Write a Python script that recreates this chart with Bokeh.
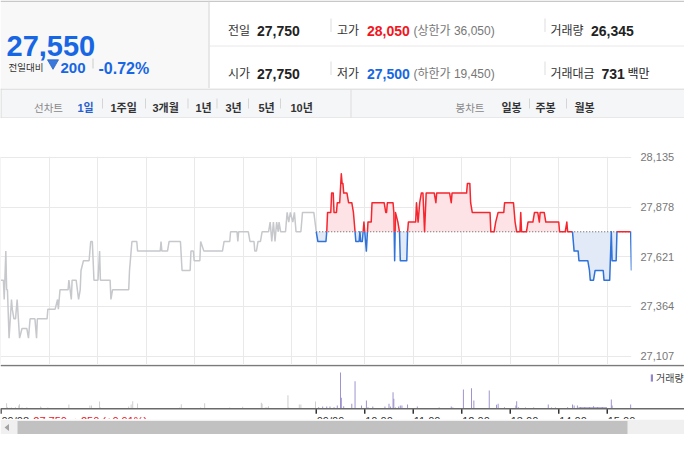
import numpy as np
from bokeh.plotting import figure
from bokeh.layouts import column
from bokeh.models import Range1d, FixedTicker, NumeralTickFormatter, Span, Legend, LegendItem
from bokeh.core.properties import value
from bokeh.embed import file_html
from bokeh.resources import INLINE

# ---------------- data ----------------
CUR_PRICE = "27,550"
CHANGE_ABS = "200"
CHANGE_PCT = "-0.72%"
ROW1 = [("전일", "27,750"), ("고가", "28,050", "(상한가 36,050)"), ("거래량", "26,345")]
ROW2 = [("시가", "27,750"), ("저가", "27,500", "(하한가 19,450)"), ("거래대금", "731", "백만")]
LINE_TABS = ["1일", "1주일", "3개월", "1년", "3년", "5년", "10년"]
CANDLE_TABS = ["일봉", "주봉", "월봉"]

PREV_CLOSE = 27750
Y_TICKS = [27107, 27364, 27621, 27878, 28135]
HOURS = ["10:00", "11:00", "12:00", "13:00", "14:00", "15:00"]
DAY_LABELS = ["09/08", "09/09"]
PREV_DAY_NOTE = "27,750 ▲250 (+0.91%)"

PREV_TIMES = ["09:00", "09:03", "09:04", "09:06", "09:07", "09:08", "09:10", "09:13", "09:14", "09:16",
              "09:18", "09:20", "09:23", "09:26", "09:32", "09:34", "09:36", "09:42", "09:44", "09:45",
              "09:57", "09:58", "10:07", "10:10", "10:11", "10:13", "10:23", "10:24", "10:27", "10:28",
              "10:33", "10:36", "10:38", "10:39", "10:42", "10:49", "10:51", "10:53", "10:55", "11:00",
              "11:02", "11:03", "11:15", "11:16", "11:18", "11:38", "11:39", "11:42", "11:48", "11:49",
              "12:17", "12:18", "12:19", "12:26", "12:28", "12:42", "12:44", "12:54", "12:55", "12:58",
              "12:59", "13:06", "13:07", "13:11", "13:34", "13:36", "13:43", "13:44", "13:52", "13:53",
              "13:54", "14:06", "14:08", "14:13", "14:14", "14:16", "14:18", "14:21", "14:23", "14:31",
              "14:33", "14:35", "14:37", "14:39", "14:41", "14:43", "14:44", "14:46", "14:52", "14:54",
              "14:56", "14:58", "15:01", "15:03", "15:05", "15:11", "15:13", "15:27", "15:30"]
PREV_PRICES = [27500, 27500, 27400, 27650, 27450, 27450, 27200, 27400, 27350, 27300,
               27300, 27400, 27200, 27250, 27250, 27200, 27300, 27300, 27200, 27300,
               27300, 27350, 27350, 27400, 27350, 27450, 27450, 27500, 27400, 27500,
               27500, 27400, 27450, 27550, 27600, 27600, 27700, 27700, 27500, 27500,
               27650, 27500, 27500, 27400, 27450, 27450, 27550, 27700, 27700, 27650,
               27650, 27700, 27650, 27650, 27700, 27700, 27550, 27550, 27650, 27650,
               27600, 27600, 27700, 27650, 27650, 27700, 27700, 27750, 27750, 27700,
               27750, 27750, 27700, 27700, 27650, 27650, 27700, 27700, 27750, 27750,
               27800, 27700, 27800, 27700, 27800, 27750, 27800, 27750, 27750, 27850,
               27800, 27850, 27800, 27850, 27750, 27750, 27850, 27850, 27750]

TODAY_TIMES = ["09:00", "09:02", "09:12", "09:13", "09:14", "09:18", "09:19", "09:21", "09:22", "09:25",
               "09:26", "09:29", "09:31", "09:32", "09:33", "09:34", "09:38", "09:40", "09:44", "09:46",
               "09:48", "09:49", "09:53", "09:54", "09:55", "09:57", "09:58", "09:59", "10:00", "10:01",
               "10:02", "10:04", "10:08", "10:09", "10:24", "10:26", "10:27", "10:28", "10:35", "10:36",
               "10:37", "10:38", "10:41", "10:43", "10:44", "10:52", "10:53", "10:54", "11:03", "11:04",
               "11:06", "11:08", "11:10", "11:12", "11:14", "11:16", "11:26", "11:28", "11:29", "11:45",
               "11:47", "11:48", "12:06", "12:07", "12:10", "12:11", "12:13", "12:35", "12:36", "12:40",
               "12:42", "12:45", "12:52", "12:53", "13:04", "13:06", "13:08", "13:12", "13:13", "13:14",
               "13:20", "13:22", "13:28", "13:30", "13:34", "13:36", "13:37", "13:42", "13:44", "14:00",
               "14:01", "14:08", "14:10", "14:11", "14:17", "14:19", "14:24", "14:25", "14:36", "14:38",
               "14:39", "14:43", "14:45", "14:55", "14:56", "15:03", "15:05", "15:06", "15:11", "15:12",
               "15:29", "15:30"]
TODAY_PRICES = [27750, 27700, 27700, 27750, 27850, 27850, 27950, 27950, 27850, 27850,
                27900, 27900, 28050, 28000, 28000, 27950, 27950, 27900, 27900, 27850,
                27750, 27700, 27700, 27750, 27700, 27700, 27750, 27800, 27750, 27700,
                27650, 27800, 27800, 27900, 27900, 27850, 27850, 27900, 27900, 27850,
                27600, 27850, 27800, 27750, 27600, 27600, 27750, 27800, 27800, 27900,
                27800, 27900, 27950, 27950, 27750, 27950, 27950, 27900, 27950, 27950,
                27900, 27950, 27950, 28000, 28000, 27900, 27850, 27850, 27750, 27750,
                27800, 27850, 27850, 27900, 27900, 27800, 27750, 27750, 27850, 27750,
                27750, 27800, 27800, 27850, 27850, 27800, 27850, 27850, 27800, 27800,
                27750, 27750, 27800, 27750, 27750, 27650, 27650, 27600, 27600, 27550,
                27500, 27500, 27550, 27550, 27500, 27500, 27750, 27600, 27600, 27750,
                27750, 27550]

PREV_VOL_TIMES = ["09:07", "09:08", "09:11", "09:13", "09:18", "09:22", "09:23", "09:26", "09:32", "09:49",
                  "09:50", "09:58", "10:24", "10:50", "10:52", "11:02", "11:03", "11:38", "11:41", "11:43",
                  "11:49", "12:41", "12:43", "13:07", "13:12", "13:43", "13:59", "14:22", "14:23", "14:27",
                  "14:29", "14:31", "14:55", "14:56", "15:09", "15:11", "15:29"]
PREV_VOLS = [340, 100, 60, 80, 100, 200, 280, 80, 100, 140,
             80, 80, 260, 200, 200, 440, 80, 140, 260, 460,
             320, 80, 280, 80, 340, 80, 120, 360, 300, 80,
             100, 160, 820, 80, 260, 260, 440]

TODAY_VOL_TIMES = ["09:03", "09:08", "09:13", "09:17", "09:22", "09:26", "09:30", "09:31", "09:34", "09:44",
                   "09:48", "09:56", "10:02", "10:04", "10:10", "10:25", "10:30", "10:32", "10:35", "10:36",
                   "10:38", "10:42", "10:44", "10:46", "10:53", "11:05", "11:32", "11:47", "11:49", "12:02",
                   "12:12", "12:15", "12:34", "12:43", "12:45", "12:53", "13:07", "13:08", "13:10", "13:19",
                   "13:29", "13:47", "13:51", "13:56", "14:11", "14:17", "14:19", "14:23",
                   "14:25", "14:26", "14:27", "14:28", "14:29", "14:30", "14:31", "14:32", "14:33", "14:34",
                   "14:35", "14:36", "14:37", "14:38", "14:39", "14:40", "14:41", "14:42", "14:43", "14:44",
                   "14:45", "14:46", "14:47", "14:48", "14:49", "14:50", "14:51", "14:52", "14:53", "14:54",
                   "14:55", "14:56", "14:57", "14:58", "14:59", "15:05", "15:06", "15:29"]
TODAY_VOLS = [100, 140, 140, 140, 100, 200, 2180, 660, 160, 300,
              1660, 200, 500, 100, 140, 140, 300, 140, 1000, 600,
              80, 140, 200, 200, 260, 140, 80, 140, 80, 1160,
              1240, 500, 1100, 240, 300, 100, 200, 460, 100, 80,
              80, 260, 80, 80, 100, 260, 200, 200,
              100, 90, 110, 100, 100, 90, 100, 110, 100, 100,
              90, 100, 100, 110, 100, 100, 90, 100, 160, 100,
              100, 90, 100, 110, 100, 100, 90, 100, 100, 110,
              100, 90, 100, 100, 100, 560, 200, 260]

# ---------------- style ----------------
FONT = "Liberation Sans, Noto Sans CJK KR"
BLUE = "#1766e3"
RED = "#f0161e"
LINE_RED = "#f5262e"
LINE_BLUE = "#2f72d9"
SESSION = 390  # minutes 09:00-15:30
W = 684


def tmin(t, day):
    h, m = t.split(":")
    return day * SESSION + (int(h) - 9) * 60 + int(m)


def prep(f, keep_ygrid=False):
    try:
        f.frame_align = False
    except Exception:
        pass
    f.xgrid.visible = False
    if not keep_ygrid:
        f.ygrid.visible = False
    return f


def blank(h, y0, y1):
    f = figure(width=W, height=h, x_range=Range1d(0, W), y_range=Range1d(y0, y1),
               output_backend="svg", toolbar_location=None,
               x_axis_location=None, y_axis_location=None, min_border=0,
               outline_line_color=None)
    return prep(f)


def txt(f, x, y, s, size, color, bold=False, align="left"):
    f.text(x=[x], y=[y], text=[s], text_font=value(FONT), text_font_size=f"{size}px",
           text_font_style="bold" if bold else "normal", text_color=color,
           text_align=align, text_baseline="alphabetic")


def vline(f, x, y0, y1, color, w=1):
    f.segment(x0=[x], y0=[y0], x1=[x], y1=[y1], line_color=color, line_width=w)


def hline(f, y, x0, x1, color, w=1):
    f.segment(x0=[x0], y0=[y], x1=[x1], y1=[y], line_color=color, line_width=w)


# ---------------- header ----------------
hdr = blank(88, 88, 0)
hdr.quad(left=[0], right=[208], top=[1.5], bottom=[88], fill_color="#f8f8f8", line_color=None)
hline(hdr, 0.75, 0, W, "#c8c8c8", 1.5)
vline(hdr, 208.5, 0, 88, "#d2d2d2")
hline(hdr, 45.5, 209, W, "#e8e8e8")

txt(hdr, 6, 45, CUR_PRICE, 29, BLUE, True)
txt(hdr, 8, 66.5, "전일대비", 9.5, "#333333")
hdr.scatter(x=[52.5], y=[62.5], marker="inverted_triangle", size=11, fill_color="#3a78dc",
            line_color="#2a62c4", line_width=0.8)
txt(hdr, 60, 67.5, CHANGE_ABS, 15, BLUE, True)
vline(hdr, 92.5, 58, 68, "#cccccc")
txt(hdr, 98, 67.5, CHANGE_PCT, 16, BLUE, True)

col_x = [227.5, 336.5, 550]
val_x = [256.5, 366.5, 590.5]
for row, base in ((ROW1, 30), (ROW2, 73)):
    for i, item in enumerate(row):
        txt(hdr, col_x[i], base, item[0], 12, "#333333")
    vline(hdr, 330.5, base - 12, base + 1.5, "#dddddd")
    vline(hdr, 544.5, base - 12, base + 1.5, "#dddddd")
txt(hdr, val_x[0], 30, ROW1[0][1], 14, "#222222", True)
txt(hdr, val_x[1], 30, ROW1[1][1], 14, RED, True)
txt(hdr, 413, 30, ROW1[1][2], 12, "#777777")
txt(hdr, val_x[2], 30, ROW1[2][1], 14, "#222222", True)
txt(hdr, val_x[0], 73, ROW2[0][1], 14, "#222222", True)
txt(hdr, val_x[1], 73, ROW2[1][1], 14, BLUE, True)
txt(hdr, 413, 73, ROW2[1][2], 12, "#777777")
txt(hdr, 601, 73, ROW2[2][1], 14, "#222222", True)
txt(hdr, 627, 73, ROW2[2][2], 12, "#222222")

# ---------------- tab bar ----------------
tab = blank(30, 118, 88)
tab.quad(left=[0], right=[W], top=[89], bottom=[117], fill_color="#f5f6f8", line_color=None)
hline(tab, 88.5, 0, W, "#c9c9c9")
hline(tab, 117.5, 0, W, "#d6d6d6")
vline(tab, 0.5, 88, 118, "#d6d6d6")
vline(tab, 350.5, 89, 117, "#dcdcdc")
txt(tab, 33.5, 107.5, "선차트", 10.5, "#888888")
for i, (s, x) in enumerate(zip(LINE_TABS, [77, 110, 152, 195, 225, 258, 290])):
    txt(tab, x, 107.5, s, 11, "#2a5fce" if i == 0 else "#333333", True)
for x in [102, 145, 187.5, 216.5, 248, 280]:
    vline(tab, x, 98, 108, "#d5d5d5")
txt(tab, 455, 107.5, "봉차트", 10.5, "#888888")
for s, x in zip(CANDLE_TABS, [501, 535, 574]):
    txt(tab, x, 107.5, s, 11, "#333333", True)
for x in [529, 566]:
    vline(tab, x, 98, 108, "#d5d5d5")

# ---------------- price chart ----------------
X_END = tmin("15:30", 1)
X_START = -0.6
PXM = 631 / (X_END - X_START)

pf = figure(width=W, height=246, x_range=Range1d(X_START, X_END), y_range=Range1d(27064, 28139),
            output_backend="svg", toolbar_location=None, x_axis_location=None, y_axis_location="right",
            min_border_left=0, min_border_right=W - 631, min_border_top=38, min_border_bottom=0,
            outline_line_color=None)
prep(pf, keep_ygrid=True)
ya = pf.yaxis[0]
ya.ticker = FixedTicker(ticks=Y_TICKS)
ya.formatter = NumeralTickFormatter(format="0,0")
ya.axis_line_color = None
ya.major_tick_line_color = None
ya.minor_tick_line_color = None
ya.major_tick_out = 0
ya.major_tick_in = 0
ya.major_label_standoff = 9
ya.major_label_text_font = "Liberation Sans"
ya.major_label_text_font_size = "11px"
ya.major_label_text_color = "#777777"
pf.ygrid.ticker = FixedTicker(ticks=Y_TICKS)
pf.ygrid.grid_line_color = "#e9e9e9"
grid_x = ([tmin("09:00", 0)] + [tmin(h, 0) for h in HOURS] +
          [tmin("09:00", 1)] + [tmin(h, 1) for h in HOURS])
pf.xgrid.visible = True
pf.xgrid.ticker = FixedTicker(ticks=grid_x)
pf.xgrid.grid_line_color = "#e9e9e9"

px_prev = [tmin(t, 0) for t in PREV_TIMES]
pf.line(px_prev, PREV_PRICES, line_color="#c6c8cc", line_width=1.5)

tx = [tmin(t, 1) for t in TODAY_TIMES]
X, P = [tx[0]], [TODAY_PRICES[0]]
for i in range(len(tx) - 1):
    x0, p0, x1, p1 = tx[i], TODAY_PRICES[i], tx[i + 1], TODAY_PRICES[i + 1]
    if (p0 - PREV_CLOSE) * (p1 - PREV_CLOSE) < 0:
        X.append(x0 + (PREV_CLOSE - p0) / (p1 - p0) * (x1 - x0))
        P.append(PREV_CLOSE)
    X.append(x1)
    P.append(p1)
X = np.array(X, float)
P = np.array(P, float)
pf.varea(x=X, y1=np.full(len(X), PREV_CLOSE), y2=np.maximum(P, PREV_CLOSE), fill_color="#fde3e5")
pf.varea(x=X, y1=np.full(len(X), PREV_CLOSE), y2=np.minimum(P, PREV_CLOSE), fill_color="#e3eaf7")
pf.line([tmin("09:00", 1), X_END], [PREV_CLOSE, PREV_CLOSE], line_color="#555555",
        line_width=1, line_dash="1 2")
runs_x, runs_y, runs_c = [], [], []
cur = None
for i in range(len(X) - 1):
    c = LINE_RED if (P[i] + P[i + 1]) / 2 >= PREV_CLOSE else LINE_BLUE
    if c != cur:
        runs_x.append([X[i]])
        runs_y.append([P[i]])
        runs_c.append(c)
        cur = c
    runs_x[-1].append(X[i + 1])
    runs_y[-1].append(P[i + 1])
pf.multi_line(xs=runs_x, ys=runs_y, line_color=runs_c, line_width=1.5, line_join="round")

# ---------------- volume chart ----------------
VPX = 60.0  # shares per pixel
vf = figure(width=W, height=55, x_range=Range1d(X_START, X_START + W / PXM),
            y_range=Range1d(-10.7 * VPX, 44.3 * VPX),
            output_backend="svg", toolbar_location=None, x_axis_location=None, y_axis_location=None,
            min_border=0, outline_line_color=None)
prep(vf)
vf.add_layout(Span(location=43.3 * VPX, dimension="width", line_color="#7a7a7a", line_width=1.5))
vf.add_layout(Span(location=0, dimension="width", line_color="#6a6a6a", line_width=1.5))
vf.vbar(x=[tmin(t, 0) for t in PREV_VOL_TIMES], top=PREV_VOLS, width=1.1,
        fill_color="#c8c8c8", line_color=None)
vb = vf.vbar(x=[tmin(t, 1) for t in TODAY_VOL_TIMES], top=TODAY_VOLS, width=1.1,
             fill_color="#9487c9", line_color=None)
tick_x = [tmin("09:00", 0), tmin("09:00", 1)] + [tmin(h, 1) for h in HOURS]
tick_lab = DAY_LABELS + HOURS
vf.segment(x0=tick_x, y0=[0] * len(tick_x), x1=tick_x, y1=[-5 * VPX] * len(tick_x),
           line_color="#333333", line_width=1.5)
vf.text(x=[t + 0.6 for t in tick_x], y=[-6.2 * VPX] * len(tick_x), text=tick_lab,
        text_font=value("Liberation Sans"), text_font_size="11px", text_color="#333333",
        text_align="left", text_baseline="top")
vf.text(x=[40], y=[-6.2 * VPX], text=[PREV_DAY_NOTE], text_font=value(FONT),
        text_font_size="11px", text_color="#f0161e", text_align="left", text_baseline="top")
leg = Legend(items=[LegendItem(label="거래량", renderers=[vb])], location=(650, 34),
             glyph_width=3, glyph_height=9, label_height=11, label_standoff=3,
             padding=0, margin=0, spacing=0, background_fill_alpha=0, border_line_color=None,
             label_text_font=FONT, label_text_font_size="10px", label_text_color="#444444")
vf.add_layout(leg)

# ---------------- scrollbar ----------------
sc = blank(15, 434, 419)
sc.quad(left=[0], right=[W], top=[419], bottom=[434], fill_color="#f0f0f0", line_color=None)
sc.quad(left=[17], right=[627], top=[420.5], bottom=[434], fill_color="#c1c1c1", line_color=None)
sc.patch(x=[4, 8.5, 8.5], y=[427, 423.5, 430.5], fill_color="#a3a3a3", line_color=None)

layout = column(hdr, tab, pf, vf, sc, spacing=0)
open("out.html", "w").write(file_html(layout, INLINE))
